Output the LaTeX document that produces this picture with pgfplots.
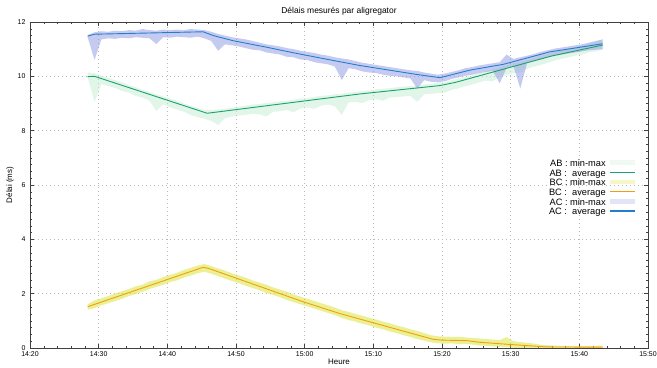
\documentclass[border=0pt]{standalone}
\usepackage{fontspec}
\setmainfont{Liberation Sans}
\usepackage{pgfplots}
\pgfplotsset{compat=1.18}
\usepgfplotslibrary{fillbetween}
\usepackage{pgfplotstable}

\definecolor{abband}{RGB}{195,235,209}
\definecolor{abline}{RGB}{25,162,112}
\definecolor{bcband}{RGB}{215,225,40}
\definecolor{bcline}{RGB}{242,158,20}
\definecolor{acband}{RGB}{140,152,225}
\definecolor{acline}{RGB}{35,125,205}

\pgfplotstableread{
t ablo abhi bclo bchi aclo achi
8.4 9.96 10.14 1.41 1.61 11.44 11.52
9.4 9.06 10.12 1.47 1.75 10.60 11.62
10.4 9.72 10.02 1.57 1.83 11.36 11.66
11.4 9.64 9.94 1.65 1.91 11.40 11.64
12.4 9.58 9.86 1.73 2.01 11.38 11.68
13.4 9.46 9.78 1.81 2.09 11.42 11.66
14.4 9.40 9.68 1.91 2.17 11.40 11.70
15.4 9.28 9.60 1.99 2.27 11.44 11.68
16.4 9.22 9.50 2.07 2.33 11.42 11.74
17.4 9.10 9.42 2.17 2.45 11.40 11.70
18.4 8.72 9.34 2.25 2.51 11.19 11.68
19.4 8.98 9.26 2.33 2.61 11.44 11.72
20.4 8.86 9.18 2.43 2.69 11.42 11.70
21.4 8.78 9.10 2.49 2.77 11.46 11.72
22.4 8.70 9.00 2.59 2.87 11.44 11.70
23.4 8.58 8.92 2.67 2.95 11.42 11.74
24.4 8.50 8.84 2.75 3.03 11.46 11.72
25.4 8.44 8.76 2.81 3.09 11.40 11.70
26.4 8.36 8.76 2.73 3.01 11.30 11.64
27.4 8.21 8.78 2.65 2.93 10.94 11.56
28.4 8.46 8.80 2.55 2.85 11.18 11.50
29.4 8.52 8.84 2.47 2.75 11.14 11.44
30.4 8.56 8.88 2.39 2.67 11.10 11.40
31.4 8.58 8.92 2.29 2.59 11.04 11.36
32.4 8.62 8.96 2.21 2.49 10.98 11.30
33.4 8.60 8.98 2.13 2.41 10.96 11.24
34.4 8.52 9.02 2.03 2.33 10.88 11.18
35.4 8.70 9.04 1.95 2.23 10.84 11.14
36.4 8.72 9.08 1.87 2.15 10.80 11.10
37.4 8.76 9.10 1.77 2.07 10.72 11.04
38.4 8.68 9.14 1.69 1.97 10.70 11.00
39.4 8.82 9.18 1.61 1.89 10.62 10.94
40.4 8.86 9.20 1.53 1.81 10.60 10.90
41.4 8.80 9.24 1.45 1.73 10.52 10.86
42.4 8.92 9.28 1.37 1.65 10.48 10.80
43.4 8.96 9.30 1.29 1.57 10.44 10.76
44.4 8.90 9.34 1.21 1.49 10.36 10.70
45.4 8.58 9.36 1.11 1.39 9.86 10.66
46.4 9.04 9.40 1.03 1.33 10.30 10.62
47.4 9.06 9.42 0.97 1.25 10.26 10.56
48.4 9.02 9.46 0.89 1.19 10.18 10.50
49.4 9.12 9.48 0.83 1.11 10.14 10.46
50.4 9.16 9.52 0.75 1.05 10.12 10.42
51.4 9.10 9.54 0.69 0.97 10.06 10.38
52.4 9.22 9.56 0.61 0.91 10.02 10.34
53.4 9.24 9.60 0.55 0.83 10.00 10.30
54.4 9.26 9.62 0.47 0.77 9.96 10.26
55.4 9.28 9.64 0.41 0.69 9.92 10.22
56.4 9.06 9.66 0.33 0.63 9.55 10.20
57.4 9.34 9.70 0.27 0.55 9.86 10.14
58.4 9.36 9.72 0.21 0.47 9.80 10.10
59.4 9.38 9.76 0.17 0.43 9.78 10.06
60.4 9.40 9.80 0.16 0.42 9.82 10.10
61.4 9.50 9.86 0.17 0.41 9.90 10.16
62.4 9.56 9.92 0.15 0.41 9.96 10.22
63.4 9.64 9.98 0.15 0.39 10.02 10.30
64.4 9.70 10.04 0.13 0.37 10.06 10.34
65.4 9.78 10.12 0.09 0.35 10.12 10.40
66.4 9.84 10.18 0.08 0.33 10.16 10.44
67.4 9.82 10.26 0.06 0.31 10.20 10.48
68.4 9.98 10.34 0.04 0.29 9.74 10.52
69.4 10.04 10.40 0.03 0.40 10.30 10.80
70.4 10.12 10.48 0.01 0.25 10.38 10.64
71.4 10.14 10.54 0.00 0.22 9.55 10.70
72.4 10.28 10.60 0.00 0.19 10.50 10.76
73.4 10.36 10.68 0.00 0.16 10.56 10.82
74.4 10.42 10.76 0.00 0.12 10.62 10.90
75.4 10.50 10.82 0.00 0.10 10.70 10.96
76.4 10.58 10.90 0.00 0.09 10.76 11.02
77.4 10.64 10.96 0.00 0.08 10.80 11.06
78.4 10.70 11.02 0.00 0.07 10.84 11.10
79.4 10.76 11.08 0.00 0.07 10.88 11.14
80.4 10.80 11.14 0.00 0.07 10.92 11.18
81.4 10.88 11.20 0.00 0.07 10.96 11.24
82.4 10.92 11.28 0.00 0.08 10.98 11.30
83.4 10.98 11.36 0.00 0.09 11.00 11.36
}\bands

\begin{document}
\begin{tikzpicture}
\begin{axis}[
  at={(0,0)}, anchor=south west,
  width=618bp, height=326bp, scale only axis,
  xmin=0, xmax=90, ymin=0, ymax=12,
  xtick={0,10,...,90},
  xticklabels={14:20,14:30,14:40,14:50,15:00,15:10,15:20,15:30,15:40,15:50},
  ytick={0,2,...,12},
  minor x tick num=4, minor y tick num=7,
  tick align=inside,
  grid=major,
  grid style={gray!55, line width=0.5bp, dash pattern=on 0.6bp off 3.4bp},
  axis line style={black!75, line width=0.5bp},
  tick style={black!75, line width=0.4bp},
  major tick length=4bp, minor tick length=2bp,
  tick label style={font=\fontsize{7}{8}\selectfont},
  xticklabel style={yshift=-0.5bp},
  yticklabel style={xshift=-1bp},
  /pgf/number format/assume math mode=true,
  title={Délais mesurés par aligregator},
  every axis title/.style={at={(axis description cs:0.5,1.0328)}, anchor=center, font=\fontsize{8.5}{10}\selectfont},
  xlabel={Heure},
  every axis x label/.style={at={(axis description cs:0.5,-0.043)}, anchor=center, font=\fontsize{8}{9}\selectfont},
  ylabel={Délai (ms)},
  every axis y label/.style={at={(axis description cs:-0.0324,0.5)}, rotate=90, anchor=center, font=\fontsize{8}{9}\selectfont},
  legend plot pos=right,
  legend cell align=right,
  legend style={at={(axis description cs:0.9854,0.584)}, anchor=north east,
    draw=none, fill=none, font=\fontsize{9.3}{10}\selectfont,
    row sep=1.1bp, column sep=4bp,
    nodes={inner sep=0pt, text height=6.6bp, text depth=2bp}},
]
% AB
\addplot[name path=ablo, draw=none, forget plot] table[x=t,y=ablo]{\bands};
\addplot[name path=abhi, draw=none, forget plot] table[x=t,y=abhi]{\bands};
\addplot[fill=abband, fill opacity=0.5, draw=none,
  legend image code/.code={\fill[abband!50!white] (0bp,-0.6bp) rectangle (25bp,3.8bp);}]
  fill between[of=abhi and ablo];
\addlegendentry{AB : min-max}
\addplot[abline, line width=0.9bp, line join=round,
  legend image code/.code={\draw[abline, line width=1.1bp] (0bp,1.6bp) -- (25bp,1.6bp);}]
  coordinates {(8.4,9.99) (9.4,10.00) (25.8,8.64) (48,9.35) (59.7,9.66) (62,9.78) (69.9,10.33) (76,10.75) (83.4,11.15)};
\addlegendentry{AB :\ \ average}
% BC
\addplot[name path=bclo, draw=none, forget plot] table[x=t,y=bclo]{\bands};
\addplot[name path=bchi, draw=none, forget plot] table[x=t,y=bchi]{\bands};
\addplot[fill=bcband, fill opacity=0.5, draw=none,
  legend image code/.code={\fill[bcband!50!white] (0bp,-0.6bp) rectangle (25bp,3.8bp);}]
  fill between[of=bchi and bclo];
\addlegendentry{BC : min-max}
\addplot[bcline, line width=0.9bp, line join=round,
  legend image code/.code={\draw[bcline, line width=1.1bp] (0bp,1.6bp) -- (25bp,1.6bp);}]
  coordinates {(8.4,1.52) (25.2,2.97) (26,2.93) (39.8,1.70) (45.1,1.27) (58.7,0.32) (60,0.29) (63.6,0.27) (65.5,0.21) (69.9,0.13) (75.2,0.04) (83.4,0.03)};
\addlegendentry{BC :\ \ average}
% AC
\addplot[name path=aclo, draw=none, forget plot] table[x=t,y=aclo]{\bands};
\addplot[name path=achi, draw=none, forget plot] table[x=t,y=achi]{\bands};
\addplot[fill=acband, fill opacity=0.5, draw=none,
  legend image code/.code={\fill[acband!50!white] (0bp,-0.6bp) rectangle (25bp,3.8bp);}]
  fill between[of=achi and aclo];
\addlegendentry{AC : min-max}
\addplot[acline, line width=0.9bp, line join=round,
  legend image code/.code={\draw[acline, line width=1.1bp] (0bp,1.6bp) -- (25bp,1.6bp);}]
  coordinates {(8.4,11.48) (9.4,11.55) (25.2,11.64) (26.7,11.50) (29.6,11.31) (34.5,11.07) (38.3,10.87) (43.2,10.63) (48,10.40) (56.3,10.07) (59.7,9.95) (64.1,10.23) (68.9,10.44) (75.7,10.90) (80.1,11.07) (83.4,11.20)};
\addlegendentry{AC :\ \ average}
\end{axis}
\pgfresetboundingbox
\path (-30bp,-20bp) rectangle (627bp,348bp);
\end{tikzpicture}
\end{document}
